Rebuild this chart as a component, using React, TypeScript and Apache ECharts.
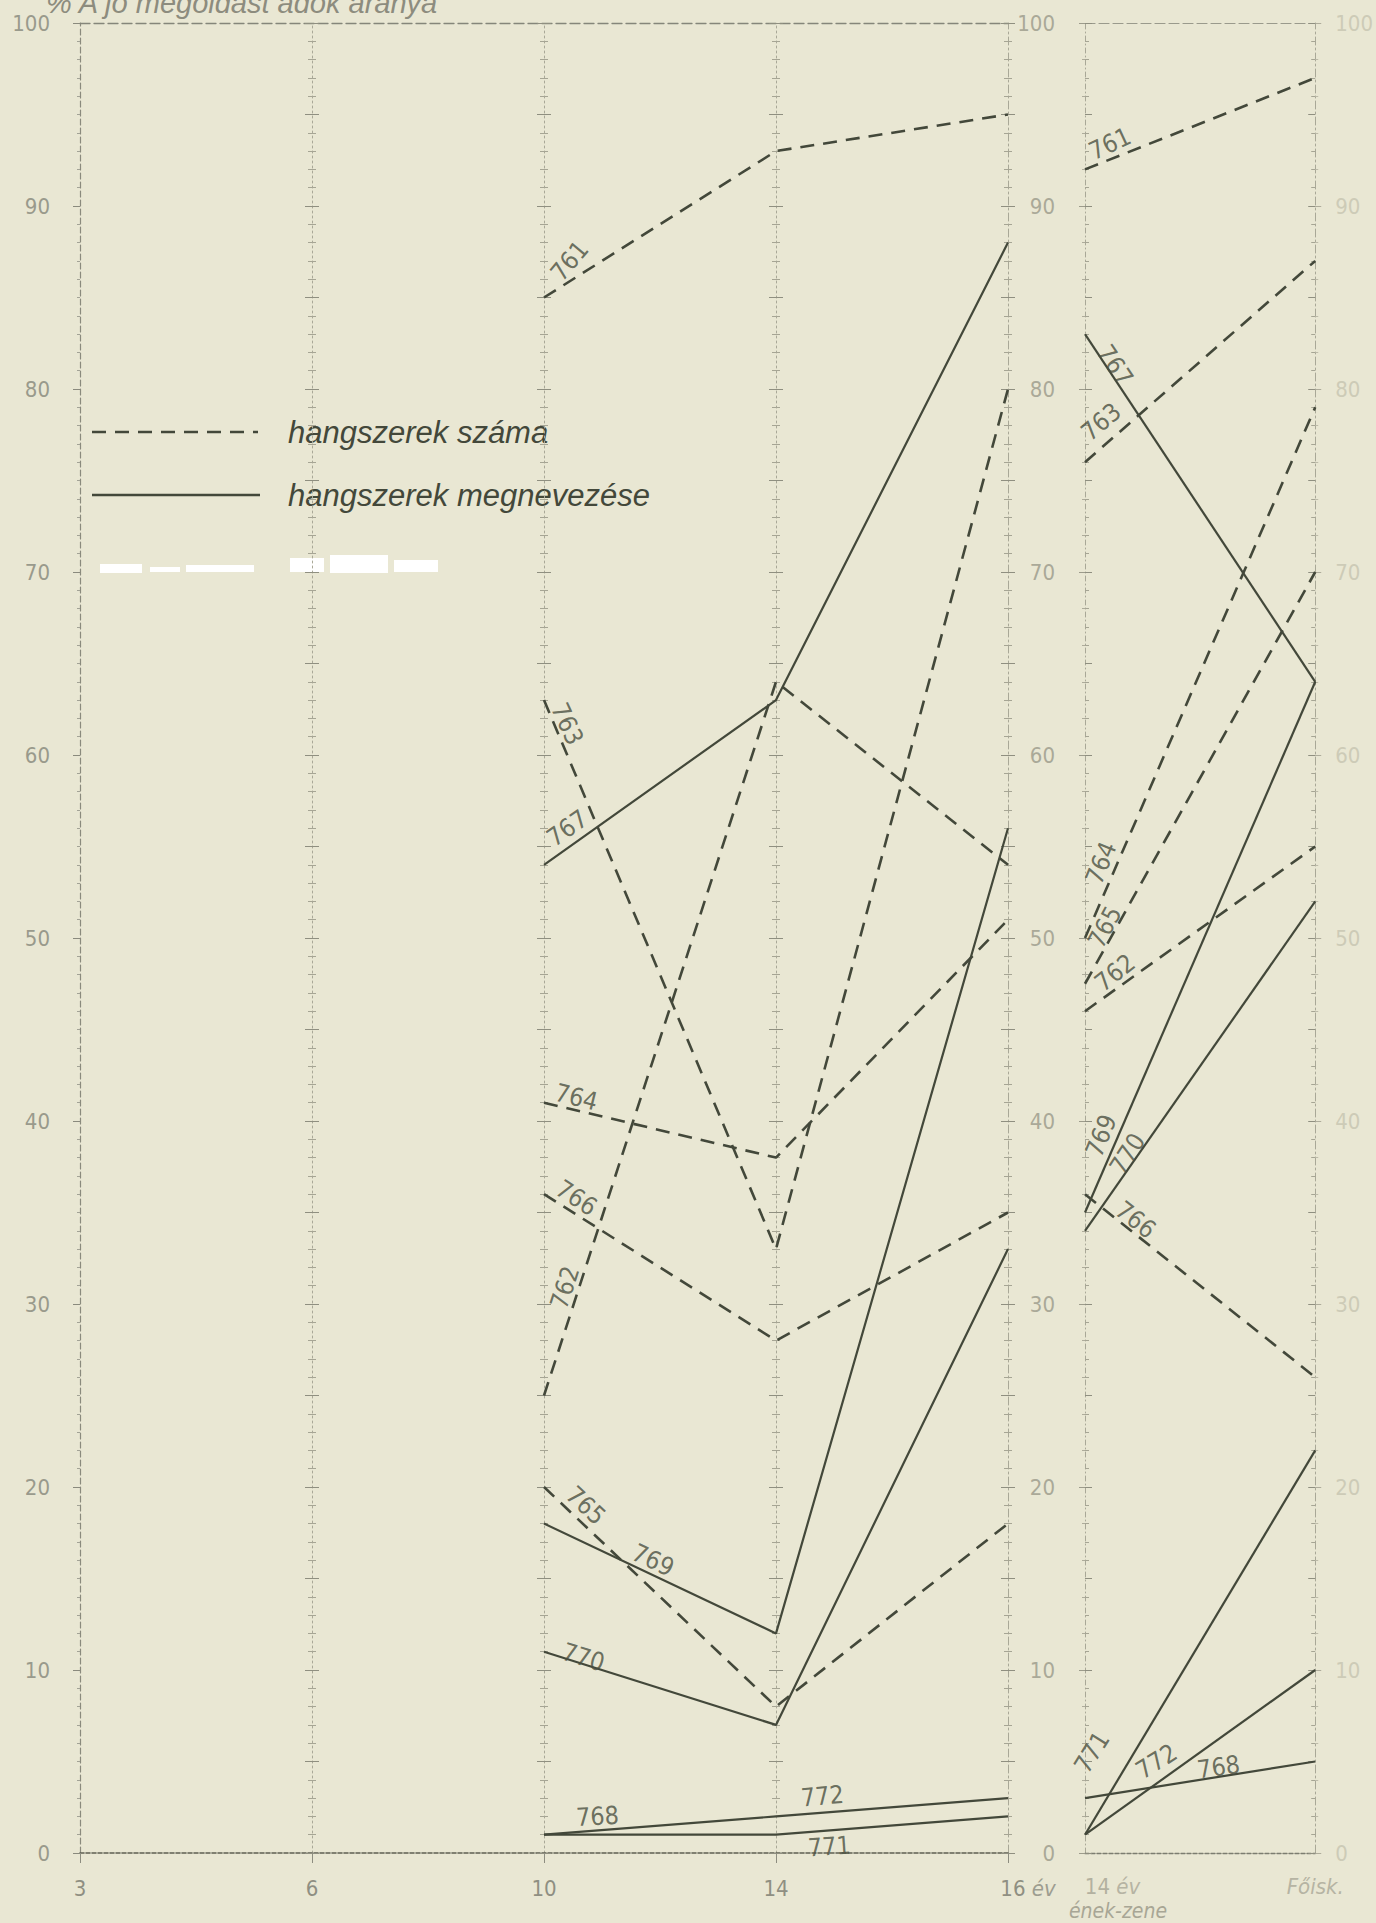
import React, { useEffect, useRef } from 'react';
import * as echarts from 'echarts';

// ---- tick labels ----
const ageTicks = ['3', '6', '10', '14', '16'];
const stageTicks = ['14', 'Főisk.'];

// ---- left panel: ages 10, 14, 16 (index into ageTicks) ----
const ageIdx = [2, 3, 4];
const a761 = [85, 93, 95];
const a762 = [25, 64, 54];
const a763 = [63, 33, 80];
const a764 = [41, 38, 51];
const a765 = [20, 8, 18];
const a766 = [36, 28, 35];
const a767 = [54, 63, 88];
const a769 = [18, 12, 56];
const a770 = [11, 7, 33];
const a771 = [1, 1, 2];
const a772 = [1, 2, 3];

// ---- right panel: 14 év (ének-zene) -> főiskola ----
const stageIdx = [0, 1];
const m761 = [92, 97];
const m762 = [46, 55];
const m763 = [76, 87];
const m764 = [50, 79];
const m765 = [47.5, 70];
const m766 = [36, 26];
const m767 = [83, 64];
const m768 = [3, 5];
const m769 = [35, 64];
const m770 = [34, 52];
const m771 = [1, 22];
const m772 = [1, 10];

// ---- line labels: [text, x, y, rotation] ----
const leftLabels: [string, number, number, number][] = [
  ['761', 2.11, 87.0, 50],
  ['763', 2.1, 61.7, -65],
  ['767', 2.1, 56.0, 35],
  ['764', 2.14, 41.3, -14],
  ['766', 2.14, 35.8, -33],
  ['762', 2.09, 30.9, 72],
  ['765', 2.18, 19.0, -43],
  ['769', 2.47, 16.0, -25],
  ['770', 2.17, 10.7, -17],
  ['768', 2.23, 2.0, 3],
  ['772', 3.2, 3.1, 5],
  ['771', 3.23, 0.35, 4],
];
const midLabels: [string, number, number, number][] = [
  ['761', 0.108, 93.4, 25],
  ['767', 0.13, 81.3, -56],
  ['763', 0.07, 78.2, 40],
  ['764', 0.07, 54.1, 68],
  ['765', 0.086, 50.6, 62],
  ['762', 0.13, 48.1, 38],
  ['769', 0.07, 39.2, 68],
  ['770', 0.185, 38.2, 57],
  ['766', 0.22, 34.6, -38],
  ['771', 0.03, 5.5, 58],
  ['772', 0.31, 5.0, 32],
  ['768', 0.58, 4.7, 8],
];

const INK = '#43483a';
const BG = '#e9e7d3';
const NUMFONT = "'Liberation Sans Narrow', 'DejaVu Sans Condensed', Roboto, sans-serif";
const DASH = [14, 9];

function lineSeries(name: string, xs: number[], vals: number[], dashed: boolean, xi: number, yi: number) {
  return {
    type: 'line',
    name,
    xAxisIndex: xi,
    yAxisIndex: yi,
    data: xs.map((x, i) => [x, vals[i]]),
    symbol: 'none',
    silent: true,
    z: 5,
    lineStyle: { color: INK, width: dashed ? 2.6 : 2.2, type: dashed ? DASH : 'solid' },
  };
}

function labelSeries(list: [string, number, number, number][], xi: number, yi: number) {
  return {
    type: 'scatter',
    xAxisIndex: xi,
    yAxisIndex: yi,
    symbolSize: 0.1,
    silent: true,
    z: 6,
    data: list.map(([t, x, y, r]) => ({
      name: t,
      value: [x, y],
      label: { rotate: r },
    })),
    label: {
      show: true,
      position: 'inside',
      formatter: '{b}',
      fontSize: 25,
      fontFamily: NUMFONT,
      color: '#4a4f40',
    },
  };
}

function tickAxis(grid: number, offset: number, inside: boolean, showLine: boolean, lineType: any, position = 'left') {
  return {
    gridIndex: grid,
    type: 'value',
    min: 0,
    max: 100,
    interval: 5,
    position,
    offset,
    axisLine: { show: showLine, onZero: false, lineStyle: { color: '#a9a897', width: 1, type: lineType } },
    axisTick: { show: true, inside, length: 7, lineStyle: { color: '#8f8f80', width: 1 } },
    minorTick: { show: true, splitNumber: 5, length: 4, lineStyle: { color: '#a6a594', width: 1 } },
    axisLabel: { show: false },
    splitLine: { show: false },
  };
}

export default function App() {
  const ref = useRef<HTMLDivElement>(null);
  useEffect(() => {
    if (!ref.current) return;
    const chart = echarts.init(ref.current, null, { renderer: 'svg' });
    const STEP = 232;
    const option: any = {
      animation: false,
      backgroundColor: BG,
      grid: [
        { left: 80, top: 23, width: STEP * 4, height: 1830 },
        { left: 1085, top: 23, width: STEP, height: 1830 },
      ],
      xAxis: [
        {
          gridIndex: 0, type: 'value', min: 0, max: 4, interval: 1, position: 'bottom',
          axisLine: { onZero: false, lineStyle: { color: '#5d5f52', width: 1.6, type: [4, 2] } },
          axisTick: { show: true, length: 10, lineStyle: { color: '#8d8d80' } },
          axisLabel: {
            margin: 24, fontSize: 22, color: '#8f8f82', fontFamily: NUMFONT,
            formatter: (v: number) => (v === 4 ? '{n|' + ageTicks[v] + '}{i| év}' : ageTicks[v]),
            rich: {
              n: { fontSize: 22, color: '#8f8f82', fontFamily: NUMFONT, padding: [0, 0, 0, 40] },
              i: { fontSize: 22, color: '#9d9d90', fontFamily: NUMFONT, fontStyle: 'italic' },
            },
          },
          splitLine: { show: false },
        },
        {
          gridIndex: 0, type: 'value', min: 0, max: 4, interval: 1, position: 'top',
          axisLine: { onZero: false, lineStyle: { color: '#85867a', width: 1.3, type: [10, 4] } },
          axisTick: { show: false }, axisLabel: { show: false }, splitLine: { show: false },
        },
        {
          gridIndex: 1, type: 'value', min: 0, max: 1, interval: 1, position: 'bottom',
          axisLine: { onZero: false, lineStyle: { color: '#7c7d70', width: 1.4, type: [4, 2] } },
          axisTick: { show: false },
          axisLabel: {
            margin: 22, fontSize: 22, color: '#b3b1a0', fontFamily: NUMFONT,
            formatter: (v: number) => (v === 0 ? '{p|' + stageTicks[0] + ' }{i|év}' : '{i|' + stageTicks[1] + '}'),
            rich: {
              p: { fontSize: 22, color: '#b3b1a0', fontFamily: NUMFONT, padding: [0, 0, 0, 55] },
              i: { fontSize: 22, color: '#b6b4a3', fontFamily: NUMFONT, fontStyle: 'italic' },
            },
          },
          splitLine: { show: false },
        },
        {
          gridIndex: 1, type: 'value', min: 0, max: 1, interval: 1, position: 'top',
          axisLine: { onZero: false, lineStyle: { color: '#9a9a8c', width: 1.2, type: [10, 4] } },
          axisTick: { show: false }, axisLabel: { show: false }, splitLine: { show: false },
        },
      ],
      yAxis: [
        {
          gridIndex: 0, type: 'value', min: 0, max: 100, interval: 10, position: 'left',
          axisLine: { show: true, onZero: false, lineStyle: { color: '#8a8a7d', width: 1.2, type: [6, 3] } },
          axisTick: { show: true, length: 7, lineStyle: { color: '#8a8a7d' } },
          minorTick: { show: true, splitNumber: 10, length: 3, lineStyle: { color: '#a3a396' } },
          axisLabel: { margin: 30, fontSize: 22, color: '#999a8c', fontFamily: NUMFONT },
          splitLine: { show: false },
        },
        {
          gridIndex: 1, type: 'value', min: 0, max: 100, interval: 10, position: 'left',
          axisLine: { show: true, onZero: false, lineStyle: { color: '#a9a897', width: 1, type: [5, 3, 1, 3] } },
          axisTick: { show: true, length: 6, lineStyle: { color: '#9c9b8b' } },
          minorTick: { show: true, splitNumber: 5, length: 3, lineStyle: { color: '#aeac9b' } },
          axisLabel: { margin: 30, fontSize: 22, color: '#aaa998', fontFamily: NUMFONT },
          splitLine: { show: false },
        },
        {
          gridIndex: 1, type: 'value', min: 0, max: 100, interval: 10, position: 'right',
          axisLine: { show: true, onZero: false, lineStyle: { color: '#a9a897', width: 1, type: [8, 3, 2, 3] } },
          axisTick: { show: true, length: 6, lineStyle: { color: '#aeac9b' } },
          minorTick: { show: true, splitNumber: 5, length: 3, lineStyle: { color: '#bdbba9' } },
          axisLabel: { margin: 20, fontSize: 22, color: '#cdcbb7', fontFamily: NUMFONT },
          splitLine: { show: false },
        },
        tickAxis(0, -STEP * 1, true, true, [2, 3]),
        tickAxis(0, -STEP * 1, false, false, 'solid'),
        tickAxis(0, -STEP * 2, true, true, [2, 3]),
        tickAxis(0, -STEP * 2, false, false, 'solid'),
        tickAxis(0, -STEP * 3, true, true, [2, 3]),
        tickAxis(0, -STEP * 3, false, false, 'solid'),
        tickAxis(0, -STEP * 4, true, true, [8, 3, 2, 3]),
        tickAxis(0, -STEP * 4, false, false, 'solid'),
        tickAxis(1, 0, true, false, 'solid'),
        tickAxis(1, 0, true, false, 'solid', 'right'),
      ],
      series: [
        lineSeries('761', ageIdx, a761, true, 0, 0),
        lineSeries('762', ageIdx, a762, true, 0, 0),
        lineSeries('763', ageIdx, a763, true, 0, 0),
        lineSeries('764', ageIdx, a764, true, 0, 0),
        lineSeries('765', ageIdx, a765, true, 0, 0),
        lineSeries('766', ageIdx, a766, true, 0, 0),
        lineSeries('767', ageIdx, a767, false, 0, 0),
        lineSeries('769', ageIdx, a769, false, 0, 0),
        lineSeries('770', ageIdx, a770, false, 0, 0),
        lineSeries('771', ageIdx, a771, false, 0, 0),
        lineSeries('772', ageIdx, a772, false, 0, 0),
        lineSeries('761', stageIdx, m761, true, 2, 1),
        lineSeries('762', stageIdx, m762, true, 2, 1),
        lineSeries('763', stageIdx, m763, true, 2, 1),
        lineSeries('764', stageIdx, m764, true, 2, 1),
        lineSeries('765', stageIdx, m765, true, 2, 1),
        lineSeries('766', stageIdx, m766, true, 2, 1),
        lineSeries('767', stageIdx, m767, false, 2, 1),
        lineSeries('768', stageIdx, m768, false, 2, 1),
        lineSeries('769', stageIdx, m769, false, 2, 1),
        lineSeries('770', stageIdx, m770, false, 2, 1),
        lineSeries('771', stageIdx, m771, false, 2, 1),
        lineSeries('772', stageIdx, m772, false, 2, 1),
        labelSeries(leftLabels, 0, 0),
        labelSeries(midLabels, 2, 1),
      ],
      graphic: [
        {
          type: 'text', x: 46, y: 17,
          style: {
            text: '% A jó megoldást adók aránya', fontSize: 29, fontStyle: 'italic',
            fontFamily: "'Liberation Sans', sans-serif", fill: '#8d8c7e', verticalAlign: 'bottom',
          },
        },
        {
          type: 'text', x: 1118, y: 1911,
          style: {
            text: 'ének-zene', fontSize: 21, fontStyle: 'italic', fontFamily: NUMFONT,
            fill: '#a8a695', align: 'center', verticalAlign: 'middle',
          },
        },
        {
          type: 'line', shape: { x1: 92, y1: 432, x2: 258, y2: 432 },
          style: { stroke: INK, lineWidth: 2.6, lineDash: DASH },
        },
        {
          type: 'text', x: 288, y: 432,
          style: {
            text: 'hangszerek száma', fontSize: 31, fontStyle: 'italic',
            fontFamily: "'Liberation Sans', sans-serif", fill: INK, verticalAlign: 'middle',
          },
        },
        {
          type: 'line', shape: { x1: 92, y1: 495, x2: 260, y2: 495 },
          style: { stroke: INK, lineWidth: 2.6 },
        },
        {
          type: 'text', x: 288, y: 495,
          style: {
            text: 'hangszerek megnevezése', fontSize: 31, fontStyle: 'italic',
            fontFamily: "'Liberation Sans', sans-serif", fill: INK, verticalAlign: 'middle',
          },
        },
        { type: 'rect', shape: { x: 100, y: 564, width: 42, height: 9 }, style: { fill: '#ffffff' } },
        { type: 'rect', shape: { x: 150, y: 567, width: 30, height: 5 }, style: { fill: '#ffffff' } },
        { type: 'rect', shape: { x: 186, y: 565, width: 68, height: 7 }, style: { fill: '#ffffff' } },
        { type: 'rect', shape: { x: 290, y: 558, width: 34, height: 14 }, style: { fill: '#ffffff' } },
        { type: 'rect', shape: { x: 330, y: 555, width: 58, height: 18 }, style: { fill: '#ffffff' } },
        { type: 'rect', shape: { x: 394, y: 560, width: 44, height: 12 }, style: { fill: '#ffffff' } },
      ],
    };
    chart.setOption(option);
    return () => chart.dispose();
  }, []);
  return (
    <div
      ref={ref}
      style={{ position: 'absolute', left: 0, top: 0, width: 1376, height: 1923, background: BG }}
    />
  );
}
